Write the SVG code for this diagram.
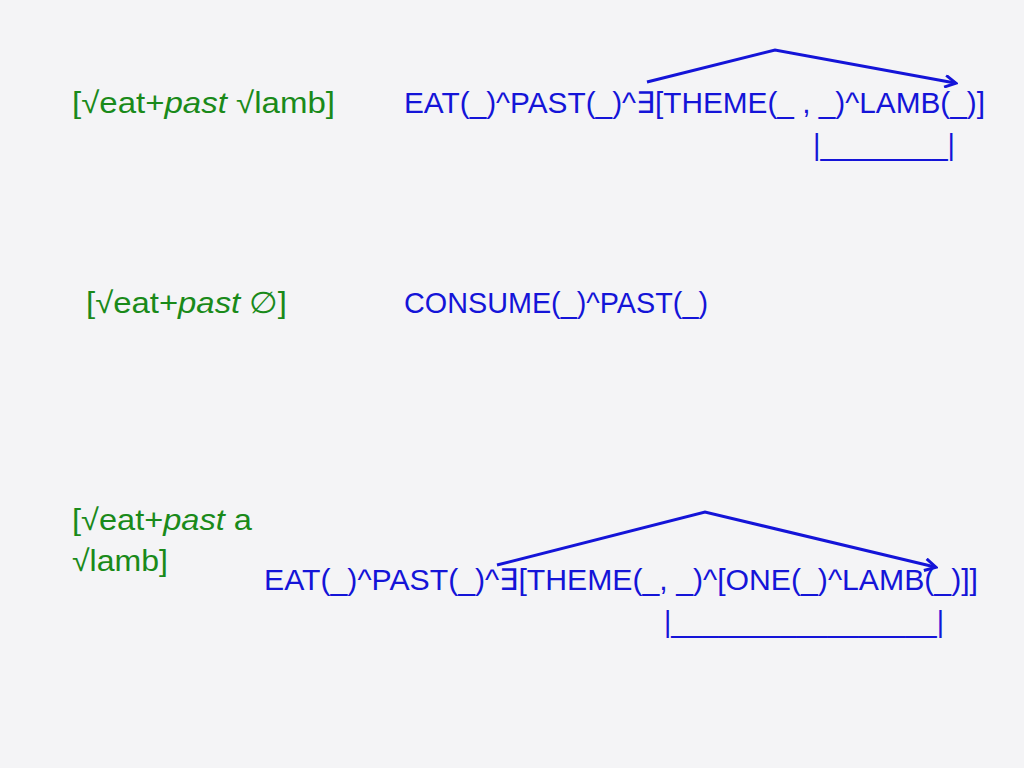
<svg xmlns="http://www.w3.org/2000/svg" width="1024" height="768" viewBox="0 0 1024 768">
<style>
text{font-family:"Liberation Sans",Arial,sans-serif;font-size:30px}
.g{fill:#1a8a1a}.b{fill:#1414d8}
.c{fill:none;stroke:#1414d8;stroke-width:3}
</style>
<defs><marker id="ah" markerWidth="14" markerHeight="14" refX="11" refY="7" orient="auto" markerUnits="userSpaceOnUse"><path d="M1,1 L12,7 L1,13" fill="none" stroke="#1414d8" stroke-width="3"/></marker></defs>
<rect width="1024" height="768" fill="#f4f4f6"/>
<g id="n1l"><text class="g" x="72" y="113" textLength="263" lengthAdjust="spacingAndGlyphs">[√eat+<tspan font-style="italic">past</tspan>  √lamb]</text></g>
<g id="n1r"><text class="b" x="404" y="113" textLength="581" lengthAdjust="spacingAndGlyphs">EAT(_)^PAST(_)^∃[THEME(_ , _)^LAMB(_)]</text>
<text class="b" x="813" y="155" textLength="142" lengthAdjust="spacingAndGlyphs">|________|</text></g>
<g id="n2l"><text class="g" x="86" y="313" textLength="201" lengthAdjust="spacingAndGlyphs">[√eat+<tspan font-style="italic">past</tspan>  ∅]</text></g>
<g id="n2r"><text class="b" x="404" y="313" textLength="304" lengthAdjust="spacingAndGlyphs">CONSUME(_)^PAST(_)</text></g>
<g id="n3l"><text class="g" x="72" y="530" textLength="180" lengthAdjust="spacingAndGlyphs">[√eat+<tspan font-style="italic">past</tspan>  a</text>
<text class="g" x="72" y="571" textLength="96" lengthAdjust="spacingAndGlyphs">√lamb]</text></g>
<g id="n3r"><text class="b" x="264" y="590" textLength="714" lengthAdjust="spacingAndGlyphs">EAT(_)^PAST(_)^∃[THEME(_, _)^[ONE(_)^LAMB(_)]]</text>
<text class="b" x="664" y="632" textLength="280" lengthAdjust="spacingAndGlyphs">|_________________|</text></g>
<g id="connectors">
<polyline class="c" points="647,82 775,50 955,83" marker-end="url(#ah)"/>
<polyline class="c" points="497,565 705,512 935,567" marker-end="url(#ah)"/>
</g>
</svg>
